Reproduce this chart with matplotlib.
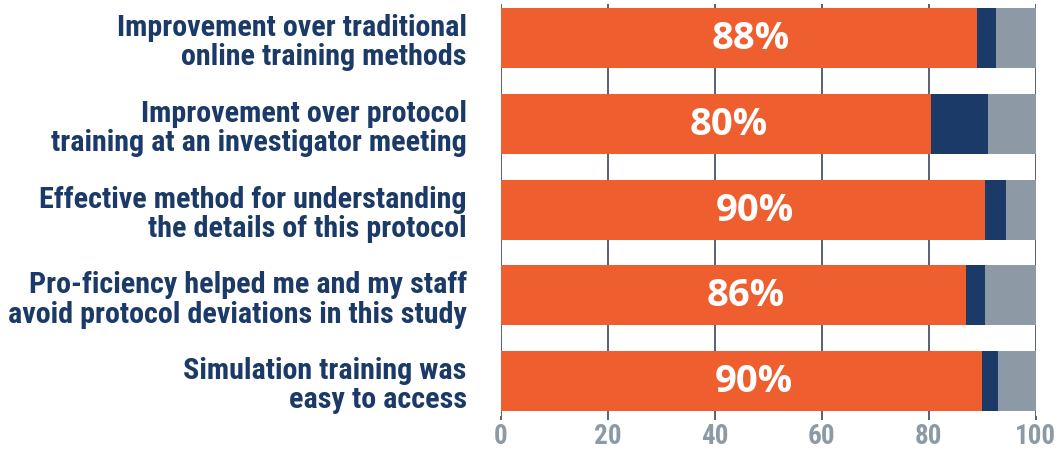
import matplotlib
matplotlib.use("Agg")
import numpy as np
import matplotlib.pyplot as plt

# survey items, top to bottom
items = [
    "Improvement over traditional\nonline training methods",
    "Improvement over protocol\ntraining at an investigator meeting",
    "Effective method for understanding\nthe details of this protocol",
    "Pro-ficiency helped me and my staff\navoid protocol deviations in this study",
    "Simulation training was\neasy to access",
]
agree = [89, 80.5, 90.5, 87, 90]
neutral = [3.5, 10.5, 4, 3.5, 3]
disagree = [7.5, 9, 5.5, 9.5, 7]
pct_labels = ["88%", "80%", "90%", "86%", "90%"]
xticks = [0, 20, 40, 60, 80, 100]

orange = "#EF5E2E"
navy = "#1B3A68"
grey = "#8D9AA5"
grid_c = "#4A5568"

fig = plt.figure(figsize=(10.58, 4.52), dpi=100)
ax = fig.add_axes([500.7 / 1058, 1 - 416.5 / 452, 535 / 1058, (416.5 - 5) / 452])

y = np.arange(len(items))
a = np.array(agree)
n = np.array(neutral)
d = np.array(disagree)
h = 0.70
ax.barh(y, a, height=h, color=orange, zorder=2)
ax.barh(y, n, left=a, height=h, color=navy, zorder=2)
ax.barh(y, d, left=a + n, height=h, color=grey, zorder=2)

for yi, ai, lab in zip(y, a, pct_labels):
    ax.text(ai / 2 + 2.3, yi, lab, ha="center", va="center", color="white",
            fontsize=27.5, fontweight="bold", family="Open Sans", zorder=3)

ax.set_xlim(0, 100)
ax.set_ylim(len(items) - 0.6, -0.4)
ax.set_xticks(xticks)
ax.set_xticklabels([str(t) for t in xticks], family="Roboto Condensed",
                   fontweight="bold", fontsize=19.5, color=grey)
ax.set_yticks(y)
ax.set_yticklabels(items, family="Roboto Condensed", fontweight="bold",
                   fontsize=21.7, color=navy, linespacing=1.05)
ax.tick_params(axis="y", length=0, pad=24.5)
ax.tick_params(axis="x", length=3, width=1.3, color=grid_c, pad=1.5)
ax.grid(axis="x", color=grid_c, linewidth=1.3, zorder=1)
ax.set_axisbelow(True)
for s in ax.spines.values():
    s.set_visible(False)

fig.savefig("out.png", dpi=100)
